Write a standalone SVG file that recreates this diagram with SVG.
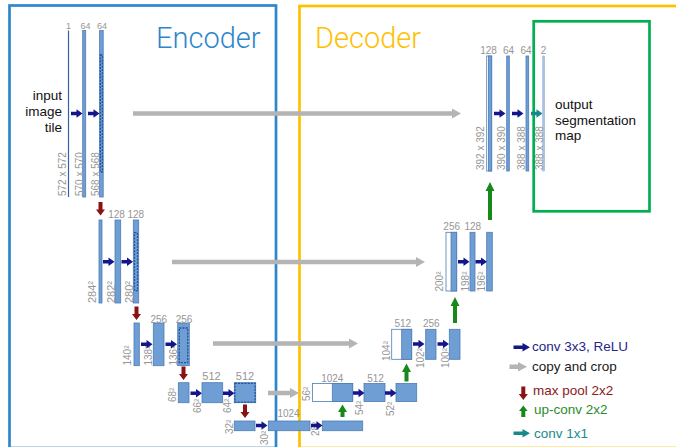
<svg xmlns="http://www.w3.org/2000/svg" xmlns:xlink="http://www.w3.org/1999/xlink" width="676" height="447" viewBox="0 0 676 447">
<style>
.bar{fill:#6e9ed4;stroke:#4c7cb6;stroke-width:0.8}
.wbar{fill:#fff;stroke:#4c7cb6;stroke-width:0.8}
.lbar{fill:#a9c2e2;stroke:#8eaad0;stroke-width:0.5}
.dash{fill:none;stroke:#23519a;stroke-width:1.3;stroke-dasharray:2 1.2}
.lab{font-family:"Liberation Sans",Arial,sans-serif;fill:#969696;text-anchor:middle;font-size:10px}
.rot{font-family:"Liberation Sans",Arial,sans-serif;fill:#969696;font-size:10px}
.txt{font-family:"Liberation Sans",Arial,sans-serif;font-size:13.5px}
.title{font-family:Roboto,"Liberation Sans",sans-serif;font-weight:300;font-size:29px}
.conv{fill:#15158a}
.copy{fill:#b4b4b4}
.pool{fill:#8b1212}
.up{fill:#17891b}
.c11{fill:#17898b}
</style>
<defs>
<path id="cv" d="M0,-1.8H5.5V-4.2L11.5,0L5.5,4.2V1.8H0Z"/>
<path id="mp" d="M-2,0V7.5H-4.5L0,13.5L4.5,7.5H2V0Z"/>
</defs>
<rect width="676" height="447" fill="#fff"/>

<g id="frames">
<rect x="9.5" y="5.5" width="266.5" height="442.5" fill="none" stroke="#2e87cb" stroke-width="2.7"/>
<rect x="299.5" y="6" width="390" height="442" fill="none" stroke="#ffc000" stroke-width="2.7"/>
<rect x="533.7" y="21.3" width="115.8" height="190" fill="none" stroke="#00b050" stroke-width="2.7"/>
<text class="title" x="156" y="48" fill="#2e87cb">Encoder</text>
<text class="title" x="315" y="48" fill="#ffc000">Decoder</text>
</g>

<g id="enc1">
<line x1="68.5" y1="30.5" x2="68.5" y2="197" stroke="#3463a3" stroke-width="1.2"/>
<rect class="bar" x="82.7" y="30.5" width="3" height="166.5"/>
<rect class="bar" x="99.6" y="30.5" width="3.6" height="166.5"/>
<rect class="dash" x="100.4" y="55" width="2" height="117"/>
<text class="lab" x="68.5" y="29" style="font-size:9px">1</text>
<text class="lab" x="85.5" y="29" style="font-size:9px">64</text>
<text class="lab" x="102" y="29" style="font-size:9px">64</text>
<text class="rot" transform="translate(66,196) rotate(-90)">572 x 572</text>
<text class="rot" transform="translate(82.7,196) rotate(-90)">570 x 570</text>
<text class="rot" transform="translate(99.3,196) rotate(-90)">568 x 568</text>
<text class="txt" text-anchor="end" x="62" y="100" fill="#111">input</text>
<text class="txt" text-anchor="end" x="62" y="116" fill="#111">image</text>
<text class="txt" text-anchor="end" x="62" y="131.5" fill="#111">tile</text>
</g>

<g id="enc2">
<rect class="bar" x="99" y="220" width="3" height="83"/>
<rect class="bar" x="115" y="220" width="5.7" height="83"/>
<rect class="bar" x="133.3" y="220" width="5.4" height="83"/>
<rect class="dash" x="134.5" y="232.7" width="3" height="58"/>
<text class="lab" x="116.5" y="217.7">128</text>
<text class="lab" x="135.8" y="217.7">128</text>
<text class="rot" transform="translate(96,303) rotate(-90)" style="font-size:11px">284²</text>
<text class="rot" transform="translate(115,303) rotate(-90)" style="font-size:11px">282²</text>
<text class="rot" transform="translate(133,303) rotate(-90)" style="font-size:11px">280²</text>
</g>

<g id="enc3">
<rect class="bar" x="134" y="323" width="5.3" height="42.7"/>
<rect class="bar" x="153.3" y="323" width="10.7" height="42.7"/>
<rect class="bar" x="177.7" y="323" width="11.6" height="42.7"/>
<rect class="dash" x="179.3" y="328" width="8.4" height="34.7"/>
<text class="lab" x="158.8" y="322.5">256</text>
<text class="lab" x="184" y="322.5">256</text>
<text class="rot" transform="translate(131,365.5) rotate(-90)">140²</text>
<text class="rot" transform="translate(151.7,365.5) rotate(-90)">138²</text>
<text class="rot" transform="translate(176.7,365.5) rotate(-90)">136²</text>
</g>

<g id="enc4">
<rect class="bar" x="178.3" y="382.7" width="10.7" height="20"/>
<rect class="bar" x="202" y="382.7" width="20.7" height="20"/>
<rect class="bar" x="234.3" y="382.7" width="21.4" height="20"/>
<rect class="dash" x="234.9" y="383.3" width="20.2" height="18.8"/>
<text class="lab" x="211.5" y="380" style="font-size:11px">512</text>
<text class="lab" x="245" y="380" style="font-size:11px">512</text>
<text class="rot" transform="translate(176,402) rotate(-90)">68²</text>
<text class="rot" transform="translate(201,413) rotate(-90)">66²</text>
<text class="rot" transform="translate(231,413) rotate(-90)">64²</text>
</g>

<g id="enc5">
<rect class="bar" x="234.3" y="421" width="20.7" height="9.7"/>
<rect class="bar" x="268.3" y="421" width="41.7" height="9.7"/>
<rect class="bar" x="322.3" y="421" width="40.4" height="9.7"/>
<text class="lab" x="288.5" y="416.7">1024</text>
<text class="rot" transform="translate(233,434) rotate(-90)">32²</text>
<text class="rot" transform="translate(267.5,445) rotate(-90)">30²</text>
<text class="rot" transform="translate(319,436) rotate(-90)">28²</text>
</g>

<g id="dec4">
<rect class="wbar" x="312.5" y="383.5" width="40.2" height="18"/>
<rect class="bar" x="332.3" y="383.5" width="20.4" height="18"/>
<rect class="bar" x="364" y="383.5" width="21" height="18"/>
<rect class="bar" x="396" y="383.5" width="20.7" height="18"/>
<text class="lab" x="332.3" y="381.7">1024</text>
<text class="lab" x="375.5" y="381.7">512</text>
<text class="rot" transform="translate(310,401) rotate(-90)">56²</text>
<text class="rot" transform="translate(363,415) rotate(-90)">54²</text>
<text class="rot" transform="translate(394,416) rotate(-90)">52²</text>
</g>

<g id="dec3">
<rect class="wbar" x="391.7" y="329.3" width="20" height="30"/>
<rect class="bar" x="401.7" y="329.3" width="10" height="30"/>
<rect class="bar" x="425.7" y="329.3" width="10.3" height="30"/>
<rect class="bar" x="449.3" y="329.3" width="10.7" height="30"/>
<text class="lab" x="402.8" y="326.7">512</text>
<text class="lab" x="431.3" y="326.7">256</text>
<text class="rot" transform="translate(389.5,361) rotate(-90)">104²</text>
<text class="rot" transform="translate(424.3,368) rotate(-90)">102²</text>
<text class="rot" transform="translate(448.5,368) rotate(-90)">100²</text>
</g>

<g id="dec2">
<rect class="wbar" x="446" y="232.3" width="10.7" height="58.7"/>
<rect class="bar" x="451" y="232.3" width="5.7" height="58.7"/>
<rect class="bar" x="470" y="232.3" width="5" height="58.7"/>
<rect class="bar" x="486.7" y="232.3" width="5.6" height="58.7"/>
<text class="lab" x="451.7" y="230">256</text>
<text class="lab" x="472.8" y="230">128</text>
<text class="rot" transform="translate(442.7,291.5) rotate(-90)">200²</text>
<text class="rot" transform="translate(468.5,291.5) rotate(-90)">198²</text>
<text class="rot" transform="translate(485,291.5) rotate(-90)">196²</text>
</g>

<g id="dec1">
<rect class="wbar" x="486.7" y="56" width="5" height="115"/>
<rect class="bar" x="488.4" y="56" width="3.3" height="115"/>
<rect class="bar" x="506.7" y="56" width="2.6" height="115"/>
<rect class="bar" x="526" y="56" width="2.7" height="115"/>
<rect class="lbar" x="542.7" y="56" width="1.8" height="115"/>
<text class="lab" x="488.5" y="54">128</text>
<text class="lab" x="508.5" y="54">64</text>
<text class="lab" x="526" y="54">64</text>
<text class="lab" x="543.5" y="54">2</text>
<text class="rot" transform="translate(484,170) rotate(-90)">392 x 392</text>
<text class="rot" transform="translate(505,170) rotate(-90)">390 x 390</text>
<text class="rot" transform="translate(525,170) rotate(-90)">388 x 388</text>
<text class="rot" transform="translate(542.5,170) rotate(-90)">388 x 388</text>
<text class="txt" x="555" y="109" fill="#111">output</text>
<text class="txt" x="555" y="124.5" fill="#111">segmentation</text>
<text class="txt" x="555" y="140" fill="#111">map</text>
</g>

<g id="connectors">
<g class="copy">
<path d="M133,111.2H452V108.5L461,113.5L452,118.5V115.8H133Z"/>
<path d="M172,259.7H416V257L425,262L416,267V264.3H172Z"/>
<path d="M213,341.2H349V338.5L358,343.5L349,348.5V345.8H213Z"/>
<path d="M268,390.7H290V388L299,393L290,398V395.3H268Z"/>
</g>
<g class="conv">
<use xlink:href="#cv" x="71" y="113.5"/>
<use xlink:href="#cv" x="88" y="113.5"/>
<use xlink:href="#cv" x="103" y="261.7"/>
<use xlink:href="#cv" x="121.5" y="261.7"/>
<use xlink:href="#cv" x="141" y="344.3"/>
<use xlink:href="#cv" x="165.5" y="344.3"/>
<use xlink:href="#cv" x="190.5" y="393.3"/>
<use xlink:href="#cv" x="223" y="393.3"/>
<use xlink:href="#cv" x="256" y="425.5"/>
<use xlink:href="#cv" x="311" y="425.5"/>
<use xlink:href="#cv" x="353" y="393"/>
<use xlink:href="#cv" x="385" y="393"/>
<use xlink:href="#cv" x="413" y="344"/>
<use xlink:href="#cv" x="437.5" y="344"/>
<use xlink:href="#cv" x="458" y="261.7"/>
<use xlink:href="#cv" x="475.5" y="261.7"/>
<use xlink:href="#cv" x="494" y="113.5"/>
<use xlink:href="#cv" x="512" y="113.5"/>
</g>
<use class="c11" xlink:href="#cv" x="531" y="113.5"/>
<g class="pool">
<use xlink:href="#mp" x="100.5" y="202"/>
<use xlink:href="#mp" x="136.5" y="306.5"/>
<use xlink:href="#mp" x="183.5" y="366.5"/>
<use xlink:href="#mp" x="245" y="404.5"/>
</g>
<g class="up">
<path d="M488,220V191H485.5L490,182L494.5,191H492V220Z"/>
<path d="M453,323V306H450.5L455,297L459.5,306H457V323Z"/>
<path d="M404.5,381.5V372H402L406.5,363.5L411,372H408.5V381.5Z"/>
<path d="M340.5,417V412H338L342.5,404.5L347,412H344.5V417Z"/>
</g>
</g>

<g id="legend">
<path class="conv" d="M513.5,345.5H522.5V343L530,347.3L522.5,351.6V349.1H513.5Z"/>
<text class="txt" x="532" y="351" fill="#25258a">conv 3x3, ReLU</text>
<path class="copy" d="M509.5,364.5H518V362L527,366.7L518,371.4V368.9H509.5Z"/>
<text class="txt" x="532" y="371" fill="#1a1a1a">copy and crop</text>
<use class="pool" xlink:href="#mp" x="523.3" y="386.5"/>
<text class="txt" x="533" y="395" fill="#8b1a1a">max pool 2x2</text>
<path class="up" d="M521.3,417V411H519L523.3,405.5L527.6,411H525.3V417Z"/>
<text class="txt" x="534" y="414" fill="#2a8c2a">up-conv 2x2</text>
<path class="c11" d="M513.5,431.5H522.5V429L530,433.3L522.5,437.6V435.1H513.5Z"/>
<text class="txt" x="534" y="437.5" fill="#1a8a8a">conv 1x1</text>
</g>
</svg>
